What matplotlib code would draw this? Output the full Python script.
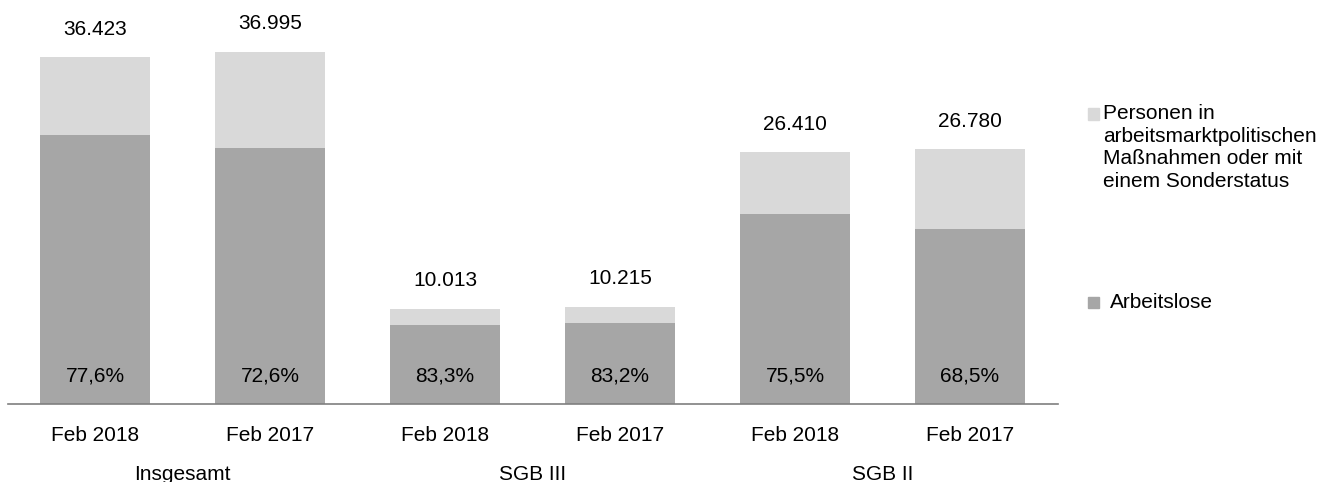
import numpy as np
import matplotlib.pyplot as plt
from matplotlib.patches import Rectangle

plt.rcParams['font.family'] = ['Liberation Sans', 'DejaVu Sans']

periods = ["Feb 2018", "Feb 2017", "Feb 2018", "Feb 2017", "Feb 2018", "Feb 2017"]
groups = ["Insgesamt", "SGB III", "SGB II"]
totals = [36423, 36995, 10013, 10215, 26410, 26780]
arbeitslose_pct = [77.6, 72.6, 83.3, 83.2, 75.5, 68.5]
total_labels = ["36.423", "36.995", "10.013", "10.215", "26.410", "26.780"]

c_dark = "#a6a6a6"
c_light = "#d9d9d9"
fs = 15

def make_plot():
    totals_a = np.array(totals, dtype=float)
    arbeitslose = totals_a * np.array(arbeitslose_pct) / 100
    rest = totals_a - arbeitslose
    x = np.arange(len(totals))

    fig = plt.figure(figsize=(13.33, 4.82), dpi=100)
    ax = fig.add_axes([7.5 / 1333, 78 / 482, 1050 / 1333, 381 / 482])
    ax.bar(x, arbeitslose, width=0.634, color=c_dark)
    ax.bar(x, rest, bottom=arbeitslose, width=0.634, color=c_light)
    ax.set_xlim(-0.5, 5.5)
    ax.set_ylim(0, 40000)
    for s in ["top", "right", "left"]:
        ax.spines[s].set_visible(False)
    ax.spines["bottom"].set_color("#7f7f7f")
    ax.spines["bottom"].set_linewidth(1.2)
    ax.set_yticks([])
    ax.set_xticks(x)
    ax.set_xticklabels(periods, fontsize=fs)
    ax.tick_params(axis="x", length=0, pad=16)

    for i in range(len(totals)):
        ax.annotate(total_labels[i], (x[i], totals[i]), xytext=(0, 16), textcoords="offset points",
                    ha="center", va="baseline", fontsize=fs)
        ax.annotate(f"{arbeitslose_pct[i]:.1f}%".replace(".", ","), (x[i], 0), xytext=(0, 20),
                    textcoords="offset points", ha="center", va="center", fontsize=fs)
    for g in range(len(groups)):
        ax.annotate(groups[g], (2 * g + 0.5, 0), xytext=(0, -51), textcoords="offset points",
                    ha="center", va="center", fontsize=fs, annotation_clip=False)

    # legend
    fig.patches.append(Rectangle((1088 / 1333, 1 - 120 / 482), 11 / 1333, 12 / 482,
                                 transform=fig.transFigure, color=c_light))
    fig.text(1103 / 1333, 1 - 104 / 482,
             "Personen in\narbeitsmarktpolitischen\nMaßnahmen oder mit\neinem Sonderstatus",
             fontsize=fs, va="top", ha="left", linespacing=1.25)
    fig.patches.append(Rectangle((1088 / 1333, 1 - 308 / 482), 11 / 1333, 11 / 482,
                                 transform=fig.transFigure, color=c_dark))
    fig.text(1110 / 1333, 1 - 302.5 / 482, "Arbeitslose", fontsize=fs, va="center", ha="left")

    plt.savefig("out.png", dpi=100)

if __name__ == '__main__':
    make_plot()
